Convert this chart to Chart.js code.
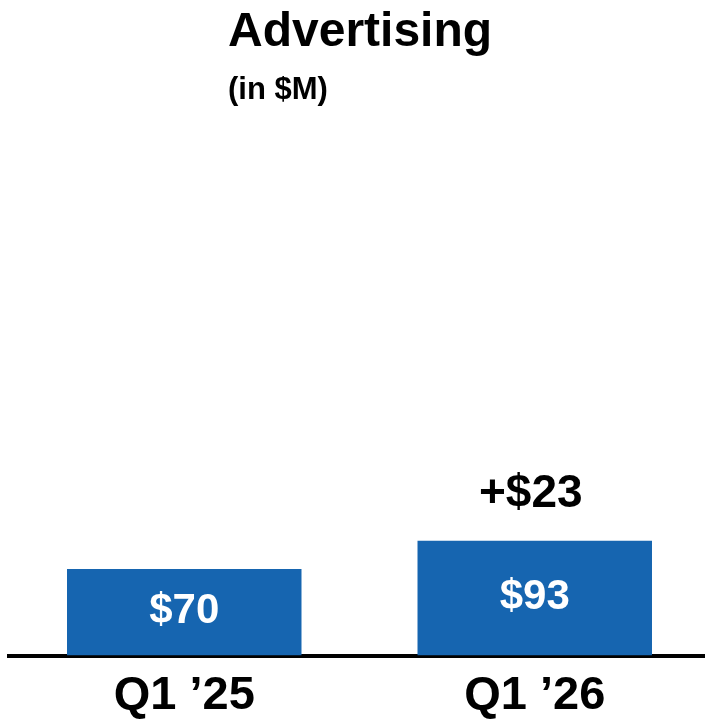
<!DOCTYPE html>
<html>
<head>
    <title>Advertising</title>
    <script src="https://cdn.jsdelivr.net/npm/chart.js"></script>
    <style>
        body { margin: 0; overflow: hidden; background: white; }
        #wrap { width: 712px; height: 736px; position: relative; }
    </style>
</head>
<body>
    <div id="wrap">
        <canvas id="myChart"></canvas>
    </div>

    <script>
        // data
        const categories = ['Q1 \u201925', 'Q1 \u201926'];
        const values = [70, 93];
        const valueLabels = ['$70', '$93'];
        const deltaLabels = ['', '+$23'];
        const chartTitle = 'Advertising';
        const chartSubtitle = '(in $M)';

        const FONT = '"Liberation Sans", Arial, sans-serif';
        const BLUE = '#1665B0';

        // titles, bar values and the change label
        const textPlugin = {
            id: 'textPlugin',
            afterDraw(chart) {
                const ctx = chart.ctx;
                ctx.save();
                ctx.fillStyle = '#000';
                ctx.textAlign = 'left';
                ctx.textBaseline = 'alphabetic';
                ctx.font = 'bold 48px ' + FONT;
                ctx.fillText(chartTitle, 228, 46);
                ctx.font = 'bold 31px ' + FONT;
                ctx.fillText(chartSubtitle, 228, 99);

                const bars = chart.getDatasetMeta(0).data;
                bars.forEach((bar, i) => {
                    ctx.textAlign = 'center';
                    ctx.textBaseline = 'middle';
                    ctx.fillStyle = '#fff';
                    ctx.font = 'bold 42px ' + FONT;
                    ctx.fillText(valueLabels[i], bar.x, (bar.y + bar.base) / 2 - 1);
                    if (deltaLabels[i]) {
                        ctx.textBaseline = 'alphabetic';
                        ctx.fillStyle = '#000';
                        ctx.font = 'bold 46px ' + FONT;
                        ctx.fillText(deltaLabels[i], bar.x - 4, bar.y - 34);
                    }
                });
                ctx.restore();
            }
        };

        new Chart(document.getElementById('myChart'), {
            type: 'bar',
            data: {
                labels: categories,
                datasets: [{
                    data: values,
                    backgroundColor: BLUE,
                    borderWidth: 0,
                    barPercentage: 1,
                    categoryPercentage: 0.669
                }]
            },
            options: {
                responsive: true,
                maintainAspectRatio: false,
                animation: false,
                layout: { padding: { top: 532, left: 9, right: 2, bottom: 0 } },
                plugins: {
                    legend: { display: false },
                    tooltip: { enabled: false }
                },
                scales: {
                    x: {
                        grid: { display: false, drawTicks: false },
                        border: { display: true, color: '#000', width: 4 },
                        ticks: {
                            color: '#000',
                            padding: 12,
                            maxRotation: 0,
                            autoSkip: false,
                            font: { family: FONT, size: 47, weight: 'bold' }
                        }
                    },
                    y: {
                        display: false,
                        min: 0,
                        max: 100
                    }
                }
            },
            plugins: [textPlugin]
        });
    </script>
</body>
</html>
